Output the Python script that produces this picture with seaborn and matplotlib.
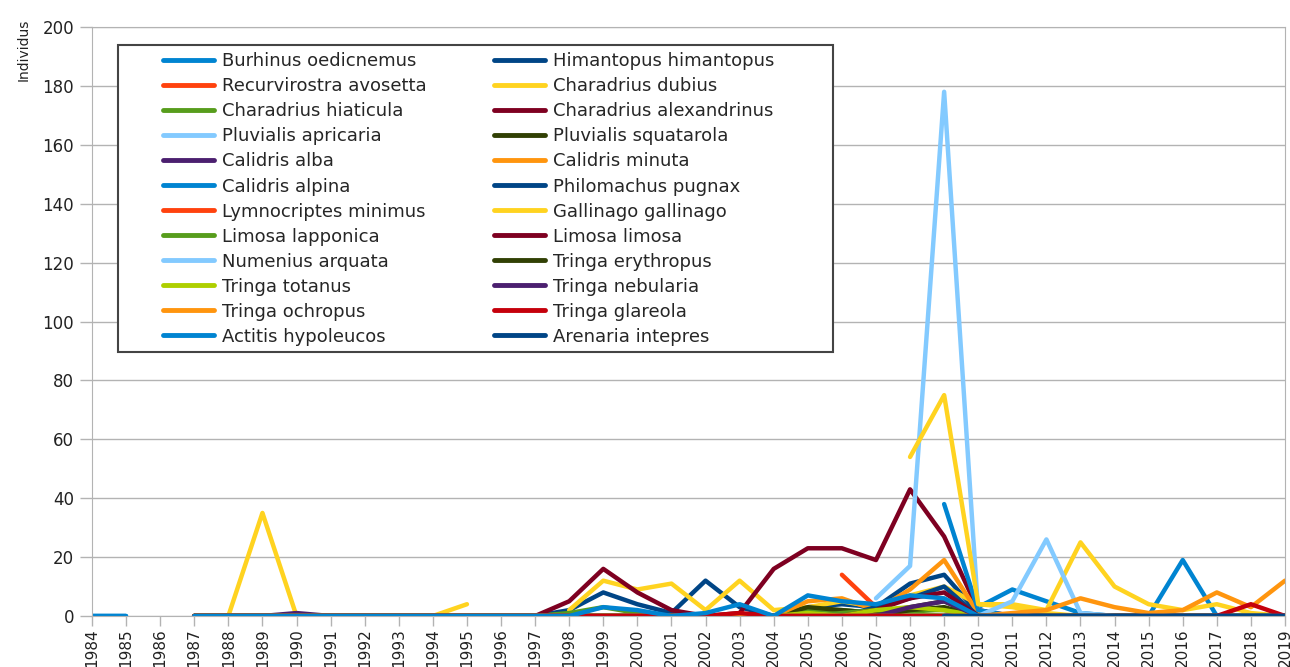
import numpy as np
import pandas as pd
import matplotlib.pyplot as plt
from matplotlib.patches import Rectangle
import seaborn as sns

n = np.nan

years = [str(y) for y in range(1984, 2020)]

# counts per year, 1984-1995 / 1996-2007 / 2008-2019
burhinus = [0, 0, n, 0, 0, 0, 0, 0, 0, 0, 0, 0,
            0, 0, 0, 0, 0, 0, 0, 0, 0, 0, 0, 0,
            0, 0, 3, 9, 5, 1, 0, 0, 19, 0, 0, 0]
himantopus = [n, n, n, 0, 0, 0, 0, 0, 0, 0, 0, 0,
              0, 0, 2, 8, 4, 1, 12, 3, 0, 3, 4, 3,
              11, 14, 1, 0, 0, 0, 0, 0, 0, 0, 0, 0]
recurvirostra = [n, n, n, n, n, n, n, n, n, n, n, n,
                 n, n, n, n, n, n, n, n, n, n, 14, 3,
                 0, 0, 0, 0, 0, 0, 0, 0, 0, 0, 0, 0]
ch_dubius = [n, n, n, 0, 0, 35, 0, 0, 0, 0, 0, 4,
             n, n, 2, 12, 9, 11, 2, 12, 2, 3, 5, 3,
             7, 10, 4, 4, 2, 25, 10, 4, 2, 4, 1, 0]
ch_hiaticula = [n, n, n, 0, 0, 0, 0, 0, 0, 0, 0, 0,
                0, 0, 1, 3, 1, 0, 0, 0, 0, 2, 2, 1,
                2, 2, 0, 0, 0, 0, 0, 0, 0, 0, 0, 0]
ch_alexandrinus = [n, n, n, 0, 0, 0, 0, 0, 0, 0, 0, 0,
                   0, 0, 5, 16, 8, 2, 0, 1, 16, 23, 23, 19,
                   43, 27, 2, 0, 0, 0, 0, 0, 0, 0, 0, 0]
pl_apricaria = [n, n, n, n, n, n, n, n, n, n, n, n,
                n, n, n, n, n, n, n, n, n, n, n, 6,
                17, 178, 1, 0, 0, 0, 0, 0, 0, 0, 0, 0]
pl_squatarola = [n, n, n, 0, 0, 0, 0, 0, 0, 0, 0, 0,
                 0, 0, 0, 0, 0, 0, 0, 0, 0, 3, 2, 1,
                 3, 5, 0, 0, 0, 0, 0, 0, 0, 0, 0, 0]
ca_alba = [n, n, n, 0, 0, 0, 1, 0, 0, 0, 0, 0,
           0, 0, 0, 0, 0, 0, 0, 0, 0, 0, 0, 0,
           0, 0, 0, 0, 0, 0, 0, 0, 0, 0, 0, 0]
ca_minuta = [n, n, n, 0, 0, 0, 0, 0, 0, 0, 0, 0,
             0, 0, 0, 0, 0, 0, 0, 0, 0, 5, 6, 2,
             9, 19, 1, 0, 0, 0, 0, 0, 0, 0, 0, 0]
ca_alpina = [n, n, n, n, n, n, n, n, n, n, n, n,
             n, n, n, n, n, n, n, n, n, n, n, n,
             n, 38, 2, 0, 0, 0, 0, 0, 0, 0, 0, 0]
philomachus = [n, n, n, 0, 0, 0, 0, 0, 0, 0, 0, 0,
               0, 0, 0, 0, 0, 0, 0, 0, 0, 0, 0, 3,
               6, 10, 0, 0, 0, 0, 0, 0, 0, 0, 0, 0]
lymnocriptes = [n, n, n, 0, 0, 0, 0, 0, 0, 0, 0, 0,
                0, 0, 0, 0, 0, 0, 0, 0, 0, 0, 0, 0,
                0, 0, 0, 0, 0, 0, 0, 0, 0, 0, 0, 0]
gallinago = [n, n, n, n, n, n, n, n, n, n, n, n,
             n, n, n, n, n, n, n, n, n, n, n, n,
             54, 75, 4, 3, 1, 0, 0, 0, 0, 0, 0, 0]
li_lapponica = [n, n, n, 0, 0, 0, 0, 0, 0, 0, 0, 0,
                0, 0, 0, 0, 0, 0, 0, 0, 0, 0, 1, 2,
                1, 0, 0, 0, 0, 0, 0, 0, 0, 0, 0, 0]
li_limosa = [n, n, n, 0, 0, 0, 0, 0, 0, 0, 0, 0,
             0, 0, 0, 0, 0, 0, 0, 0, 0, 0, 0, 2,
             6, 8, 0, 0, 0, 0, 0, 0, 0, 0, 0, 0]
numenius = [n, n, n, 0, 0, 0, 0, 0, 0, 0, 0, 0,
            0, 0, 0, 0, 0, 0, 0, 0, 0, 0, 0, 0,
            0, 0, 0, 5, 26, 1, 0, 0, 0, 0, 0, 0]
tr_erythropus = [n, n, n, 0, 0, 0, 0, 0, 0, 0, 0, 0,
                 0, 0, 0, 0, 0, 0, 0, 0, 0, 0, 0, 0,
                 2, 3, 0, 0, 0, 0, 0, 0, 0, 0, 0, 0]
tr_totanus = [n, n, n, 0, 0, 0, 0, 0, 0, 0, 0, 0,
              0, 0, 0, 0, 0, 0, 0, 0, 0, 1, 0, 2,
              3, 2, 0, 0, 0, 0, 0, 0, 0, 0, 0, 0]
tr_nebularia = [n, n, n, 0, 0, 0, 0, 0, 0, 0, 0, 0,
                0, 0, 0, 0, 0, 0, 0, 0, 0, 0, 0, 0,
                3, 5, 0, 0, 0, 0, 0, 0, 0, 0, 0, 0]
tr_ochropus = [n, n, n, 0, 0, 0, 0, 0, 0, 0, 0, 0,
               0, 0, 0, 0, 0, 0, 0, 0, 0, 0, 0, 0,
               0, 0, 0, 1, 2, 6, 3, 1, 2, 8, 3, 12]
tr_glareola = [n, n, n, 0, 0, 0, 0, 0, 0, 0, 0, 0,
               0, 0, 0, 0, 0, 0, 0, 1, 0, 0, 0, 0,
               0, 0, 0, 0, 0, 0, 0, 0, 0, 0, 4, 0]
actitis = [0, 0, n, 0, 0, 0, 0, 0, 0, 0, 0, 0,
           0, 0, 0, 3, 2, 0, 1, 4, 0, 7, 5, 4,
           7, 6, 0, 0, 0, 0, 0, 0, 0, 0, 0, 0]
arenaria = [n, n, n, n, n, n, n, n, n, n, n, n,
            n, n, n, n, n, n, n, n, n, n, n, n,
            n, 0, 0, 0, 0, 0, 0, 0, 0, 0, 0, 0]

species = ["Burhinus oedicnemus", "Himantopus himantopus", "Recurvirostra avosetta",
           "Charadrius dubius", "Charadrius hiaticula", "Charadrius alexandrinus",
           "Pluvialis apricaria", "Pluvialis squatarola", "Calidris alba",
           "Calidris minuta", "Calidris alpina", "Philomachus pugnax",
           "Lymnocriptes minimus", "Gallinago gallinago", "Limosa lapponica",
           "Limosa limosa", "Numenius arquata", "Tringa erythropus",
           "Tringa totanus", "Tringa nebularia", "Tringa ochropus",
           "Tringa glareola", "Actitis hypoleucos", "Arenaria intepres"]
series = [burhinus, himantopus, recurvirostra, ch_dubius, ch_hiaticula, ch_alexandrinus,
          pl_apricaria, pl_squatarola, ca_alba, ca_minuta, ca_alpina, philomachus,
          lymnocriptes, gallinago, li_lapponica, li_limosa, numenius, tr_erythropus,
          tr_totanus, tr_nebularia, tr_ochropus, tr_glareola, actitis, arenaria]
colors = ["#0084d1", "#004586", "#ff420e", "#ffd320", "#579d1c", "#7e0021",
          "#83caff", "#314004", "#4b1f6f", "#ff950e", "#0084d1", "#004586",
          "#ff420e", "#ffd320", "#579d1c", "#7e0021", "#83caff", "#314004",
          "#aecf00", "#4b1f6f", "#ff950e", "#c5000b", "#0084d1", "#004586"]

# long format, broken into segments at missing years
rows = []
for name, vals in zip(species, series):
    seg = 0
    for i, v in enumerate(vals):
        if np.isnan(v):
            seg += 1
            continue
        rows.append({"x": i, "val": v, "species": name, "seg": seg})
df = pd.DataFrame(rows)

sns.set_style("white")
plt.rcParams["font.family"] = ["DejaVu Sans"]

fig = plt.figure(figsize=(12.9, 6.67), dpi=100)
ax = fig.add_axes([92 / 1290, 1 - 616 / 667, 1193 / 1290, 589 / 667])

sns.lineplot(data=df, x="x", y="val", hue="species", units="seg", estimator=None,
             hue_order=species, palette=dict(zip(species, colors)),
             linewidth=3.2, ax=ax, sort=True)

handles, labels = ax.get_legend_handles_labels()
ax.get_legend().remove()
for h in handles:
    h.set_linewidth(3.5)
order = list(range(0, 24, 2)) + list(range(1, 24, 2))
ax.legend([handles[i] for i in order], [labels[i] for i in order], ncol=2,
          loc="upper left", bbox_to_anchor=(0.0595, 0.957), borderaxespad=0,
          borderpad=0, frameon=False, fontsize=13, handlelength=2.83,
          handletextpad=0.45, columnspacing=3.7, labelspacing=0.39).set_zorder(6)
ax.add_patch(Rectangle((0.0218, 0.4482), 0.5993, 0.5212, transform=ax.transAxes,
                       facecolor="white", edgecolor="#444444", lw=1.5, zorder=5))

ax.set_xlim(0, len(years) - 1)
ax.set_ylim(0, 200)
ax.set_xticks(range(len(years)))
ax.set_xticklabels(years, rotation=90, va="top")
ax.set_yticks(range(0, 201, 20))
ax.set_xlabel("")
ax.set_ylabel("")
ax.yaxis.grid(True, color="#b3b3b3", lw=1)
for s in ax.spines.values():
    s.set_color("#b3b3b3")
ax.tick_params(axis="x", length=7, width=1, color="#b3b3b3", pad=2, labelsize=11,
               labelcolor="#222222", bottom=True)
ax.tick_params(axis="y", length=9, width=1, color="#b3b3b3", pad=4, labelsize=12,
               labelcolor="#222222", left=True)

fig.text(24 / 1290, 1 - 50 / 667, "Individus", rotation=90, ha="center", va="center",
         fontsize=10, color="#222222")

fig.savefig("out.png", dpi=100)
